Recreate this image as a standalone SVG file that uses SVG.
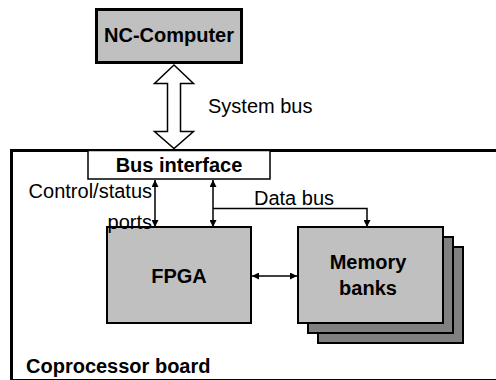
<svg xmlns="http://www.w3.org/2000/svg" width="496" height="380" viewBox="0 0 496 380">
<style>
.t{font-family:"Liberation Sans",Arial,sans-serif;font-size:20px;fill:#000}
.b{font-weight:bold}
.box{fill:#c0c0c0;stroke:#000;stroke-width:2}
.back{fill:#808080;stroke:#000;stroke-width:2}
.ln{fill:none;stroke:#000;stroke-width:1.5}
</style>
<defs>
<marker id="ah" viewBox="0 0 10 10" refX="10" refY="5" markerWidth="7" markerHeight="7" markerUnits="userSpaceOnUse" orient="auto-start-reverse">
<path d="M0,0 L10,5 L0,10 z" fill="#000"/>
</marker>
</defs>
<g id="board">
<rect x="11.5" y="150.5" width="500" height="230" fill="#fff" stroke="#000" stroke-width="3"/>
<text class="t b" x="26" y="373">Coprocessor board</text>
</g>
<g id="nc-computer">
<rect x="96.5" y="9.5" width="145" height="53" fill="#c0c0c0" stroke="#000" stroke-width="3"/>
<text class="t b" x="169" y="42" text-anchor="middle">NC-Computer</text>
</g>
<g id="bus-interface">
<rect x="88" y="150.5" width="182" height="28.5" fill="#fff" stroke="#000" stroke-width="1.5"/>
<text class="t b" x="179" y="172" text-anchor="middle">Bus interface</text>
</g>
<g id="fpga">
<rect class="box" x="107" y="227" width="144" height="96"/>
<text class="t b" x="179" y="283" text-anchor="middle">FPGA</text>
</g>
<g id="memory-banks">
<rect class="back" x="318" y="247" width="145" height="96"/>
<rect class="back" x="308" y="237" width="145" height="96"/>
<rect class="box" x="298" y="227" width="145" height="96"/>
<text class="t b" x="368" y="269" text-anchor="middle">Memory</text>
<text class="t b" x="368" y="295" text-anchor="middle">banks</text>
</g>
<g id="connectors">
<polygon points="174,65 193.5,83.5 180.5,83.5 180.5,131.5 193.5,131.5 174,148.5 154.5,131.5 167.5,131.5 167.5,83.5 154.5,83.5" fill="#fff" stroke="#000" stroke-width="1.5" stroke-linejoin="miter"/>
<line class="ln" x1="155" y1="180" x2="155" y2="227" marker-start="url(#ah)" marker-end="url(#ah)"/>
<line class="ln" x1="213" y1="180" x2="213" y2="227" marker-start="url(#ah)" marker-end="url(#ah)"/>
<polyline class="ln" points="213,208.5 367,208.5 367,227" marker-end="url(#ah)"/>
<line class="ln" x1="252" y1="276" x2="297" y2="276" marker-start="url(#ah)" marker-end="url(#ah)"/>
</g>
<g id="labels">
<text class="t" x="208" y="113">System bus</text>
<text class="t" x="254" y="205">Data bus</text>
<text class="t" x="152" y="198" text-anchor="end">Control/status</text>
<text class="t" x="152" y="229" text-anchor="end">ports</text>
</g>
</svg>
